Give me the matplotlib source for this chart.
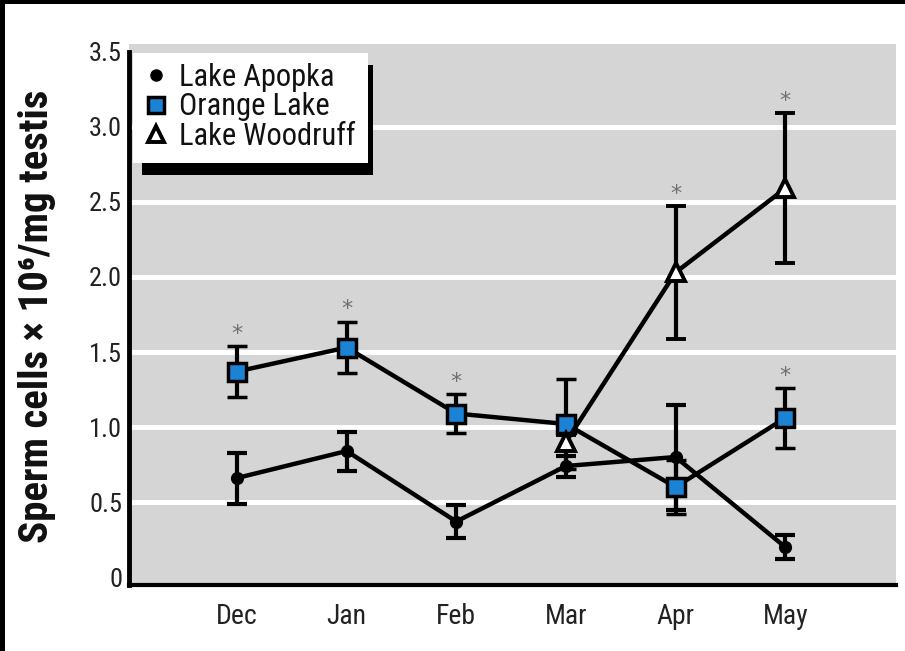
import matplotlib.pyplot as plt
from matplotlib.patches import Rectangle
from matplotlib.lines import Line2D

months = ['Dec', 'Jan', 'Feb', 'Mar', 'Apr', 'May']

apopka = [0.66, 0.84, 0.37, 0.74, 0.80, 0.20]
apopka_err = [0.17, 0.13, 0.11, 0.07, 0.35, 0.08]

orange = [1.37, 1.53, 1.09, 1.02, 0.60, 1.06]
orange_err = [0.17, 0.17, 0.13, 0.30, 0.18, 0.20]

woodruff_months = ['Mar', 'Apr', 'May']
woodruff = [0.90, 2.03, 2.59]
woodruff_err = [0.05, 0.44, 0.50]

# significant differences (series, month)
stars = [('orange', 'Dec'), ('orange', 'Jan'), ('orange', 'Feb'),
         ('woodruff', 'Apr'), ('woodruff', 'May'), ('orange', 'May')]

plt.rcParams['font.family'] = ['Roboto Condensed', 'DejaVu Sans']

fig = plt.figure(figsize=(9.05, 6.51), dpi=100)
ax = fig.add_axes([0.1425, 0.1014, 0.8475, 0.831])
ax.set_facecolor('#d5d5d5')

xi = {m: i for i, m in enumerate(months)}
xa = [xi[m] for m in months]
xw = [xi[m] for m in woodruff_months]

for yv in [0.5, 1.0, 1.5, 2.0, 2.5, 3.0]:
    ax.axhline(yv, color='white', lw=3.5, zorder=1)

style = dict(color='black', lw=3.2, elinewidth=3, capsize=7, capthick=3)
ax.errorbar(xa, apopka, yerr=apopka_err, marker='o', ms=8.5, mfc='black',
            mec='black', zorder=3, **style)
ax.errorbar(xa, orange, yerr=orange_err, marker='s', ms=12.5, mfc='#1c82d4',
            mec='black', mew=2.5, zorder=4, **style)
ax.errorbar(xw, woodruff, yerr=woodruff_err, marker='^', ms=13, mfc='white',
            mec='black', mew=2.8, zorder=5, **style)

tops = {'orange': dict(zip(months, [v + e for v, e in zip(orange, orange_err)])),
        'woodruff': dict(zip(woodruff_months, [v + e for v, e in zip(woodruff, woodruff_err)]))}
for series, m in stars:
    ax.annotate('*', (xi[m], tops[series][m]), xytext=(0, 9), textcoords='offset points',
                ha='center', va='center', fontsize=16, color='#707070',
                family=['DejaVu Sans'], zorder=6)

ax.set_xlim(-0.985, 6.01)
ax.set_ylim(-0.053, 3.553)
ax.set_xticks(xa)
ax.set_xticklabels(months)
ax.set_yticks([0, 0.5, 1.0, 1.5, 2.0, 2.5, 3.0, 3.5])
ax.set_yticklabels(['0', '0.5', '1.0', '1.5', '2.0', '2.5', '3.0', '3.5'])
ax.tick_params(axis='x', length=0, pad=13, labelsize=20, labelcolor='#222222')
ax.tick_params(axis='y', length=0, pad=5, labelsize=19, labelcolor='#222222')

for s in ['top', 'right']:
    ax.spines[s].set_visible(False)
ax.spines['left'].set_linewidth(3.5)
ax.spines['bottom'].set_linewidth(3)
ax.spines['left'].set_bounds(-0.053, 3.5)

fig.text(0.041, 0.514, 'Sperm cells × 10⁶/mg testis', rotation=90,
         ha='center', va='center', fontsize=29.5, fontweight='bold', color='#111111')

# legend box with a black drop shadow
ax.add_patch(Rectangle((0.017, 0.758), 0.301, 0.203, transform=ax.transAxes,
                       facecolor='black', edgecolor='none', zorder=7, clip_on=False))
ax.add_patch(Rectangle((0.005, 0.780), 0.307, 0.203, transform=ax.transAxes,
                       facecolor='white', edgecolor='none', zorder=8, clip_on=False))
handles = [
    Line2D([], [], ls='none', marker='o', ms=8, mfc='black', mec='black'),
    Line2D([], [], ls='none', marker='s', ms=11, mfc='#1c82d4', mec='black', mew=2.5),
    Line2D([], [], ls='none', marker='^', ms=12, mfc='white', mec='black', mew=2.8),
]
leg = ax.legend(handles, ['Lake Apopka', 'Orange Lake', 'Lake Woodruff'],
                loc='upper left', bbox_to_anchor=(0.002, 0.988), frameon=False,
                fontsize=22, handlelength=0.9, handletextpad=0.3,
                labelspacing=0.02, borderaxespad=0)
leg.set_zorder(9)
for t in leg.get_texts():
    t.set_color('#111111')

# black frame along the top and left edges
fig.patches.append(Rectangle((0, 0.994), 1, 0.006, transform=fig.transFigure,
                             facecolor='black', edgecolor='none'))
fig.patches.append(Rectangle((0, 0), 0.0055, 1, transform=fig.transFigure,
                             facecolor='black', edgecolor='none'))

fig.savefig('out.png', dpi=100, facecolor='white')
